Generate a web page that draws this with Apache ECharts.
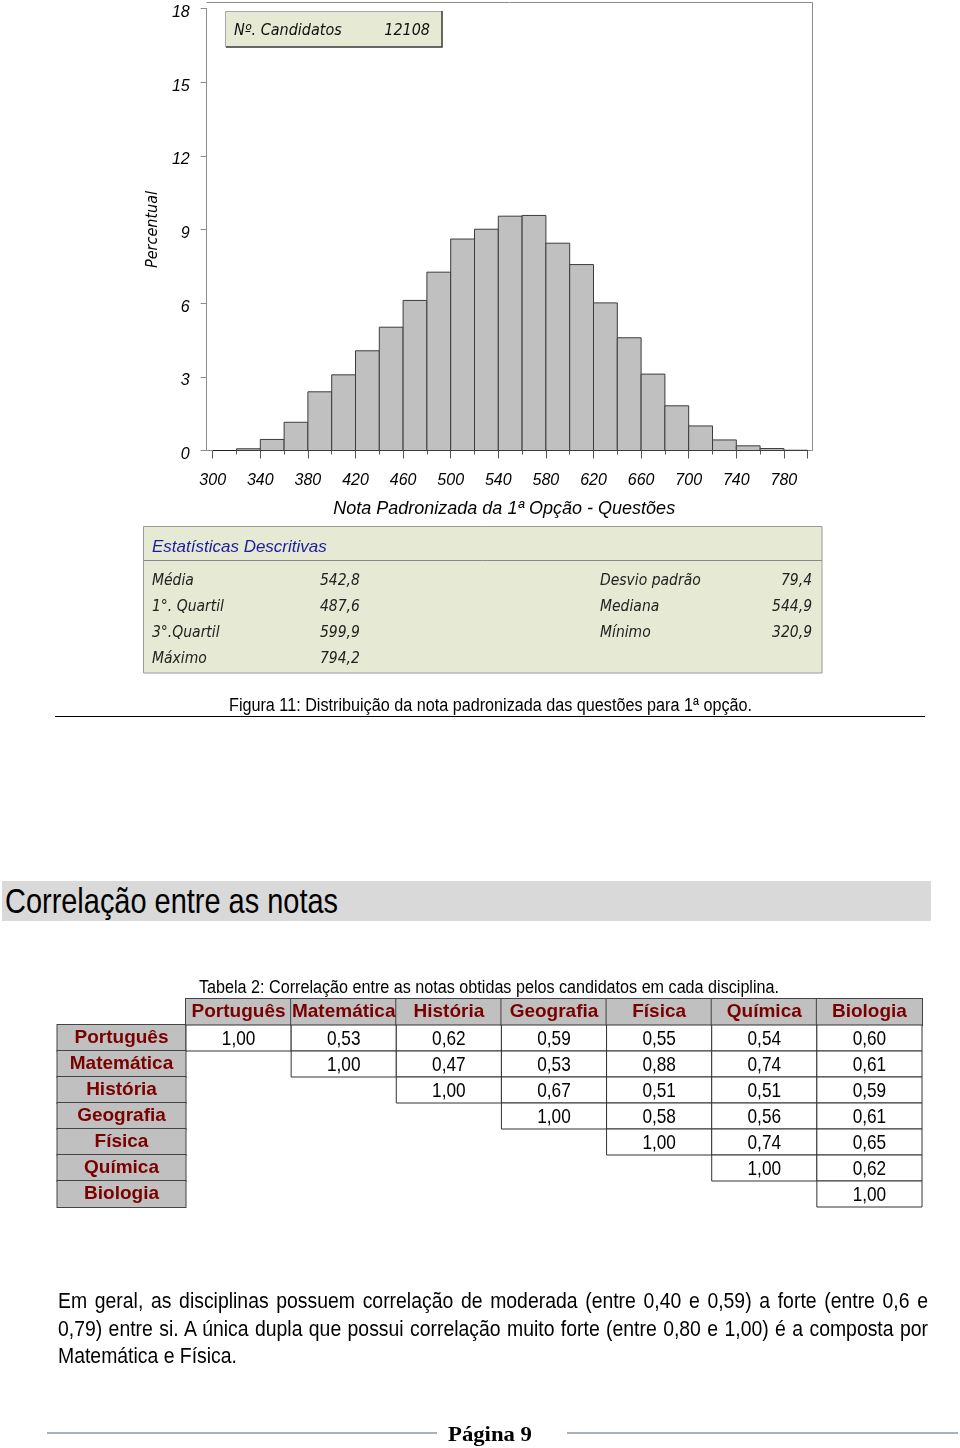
<!DOCTYPE html>
<html>
<head>
<meta charset="utf-8">
<script src="https://cdn.jsdelivr.net/npm/echarts@6/dist/echarts.min.js"></script>
<style>
html,body{margin:0;padding:0;background:#fff;}
#page{position:relative;width:960px;height:1448px;overflow:hidden;background:#fff;}
#chart{position:absolute;left:0;top:0;width:960px;height:1448px;}
.t{position:absolute;white-space:nowrap;color:#000;font-family:'Liberation Sans',Arial,sans-serif;transform-origin:0 0;}
#cap1{left:229px;top:694px;font-size:18px;line-height:22px;}
#cap1line{position:absolute;left:55px;top:716px;width:870px;height:1px;background:#000;}
#band{position:absolute;left:2px;top:881px;width:929px;height:40px;background:#d9d9d9;}
#head{left:5px;top:881px;font-size:35px;line-height:40px;}
#cap2{left:199px;top:976px;font-size:18px;line-height:22px;}
#para{position:absolute;left:58px;top:1287px;font-family:'Liberation Sans',Arial,sans-serif;font-size:22px;line-height:27.5px;color:#000;transform-origin:0 0;}
#para span{display:block;white-space:nowrap;}
#para span.j{text-align:justify;text-align-last:justify;}
.fl{position:absolute;top:1432px;height:2px;background:#a7b2bd;}
#foot{left:448px;top:1420px;font-family:'Liberation Serif','DejaVu Serif',serif;font-weight:bold;font-size:22px;line-height:28px;}
</style>
</head>
<body>
<div id="page">
  <div id="chart"></div>
  <div class="t" id="cap1">Figura 11: Distribuição da nota padronizada das questões para 1ª opção.</div>
  <div id="cap1line"></div>
  <div id="band"></div>
  <div class="t" id="head">Correlação entre as notas</div>
  <div class="t" id="cap2">Tabela 2: Correlação entre as notas obtidas pelos candidatos em cada disciplina.</div>
  <div id="para">
    <span class="j" id="p1">Em geral, as disciplinas possuem correlação de moderada (entre 0,40 e 0,59) a forte (entre 0,6 e</span>
    <span class="j" id="p2">0,79) entre si. A única dupla que possui correlação muito forte (entre 0,80 e 1,00) é a composta por</span>
    <span id="p3">Matemática e Física.</span>
  </div>
  <div class="fl" style="left:47px;width:390px;"></div>
  <div class="fl" style="left:567px;width:391px;"></div>
  <div class="t" id="foot">Página 9</div>
</div>
<script>
// ---------- Histogram data ----------
const binStarts = [300,320,340,360,380,400,420,440,460,480,500,520,540,560,580,600,620,640,660,680,700,720,740,760,780];
const binWidth = 20;
const percent   = [0,0.07,0.45,1.15,2.39,3.08,4.06,5.02,6.11,7.26,8.61,9.01,9.54,9.57,8.44,7.57,6.01,4.59,3.11,1.82,1.00,0.43,0.19,0.08,0.01];
const nCandidatosLabel = 'Nº. Candidatos';
const nCandidatos = '12108';
const statsTitle = 'Estatísticas Descritivas';
const statsLeftLabels  = ['Média','1°. Quartil','3°.Quartil','Máximo'];
const statsLeftValues  = ['542,8','487,6','599,9','794,2'];
const statsRightLabels = ['Desvio padrão','Mediana','Mínimo'];
const statsRightValues = ['79,4','544,9','320,9'];

// ---------- Correlation data ----------
const subjects = ['Português','Matemática','História','Geografia','Física','Química','Biologia'];
const rowPortugues  = [1.00,0.53,0.62,0.59,0.55,0.54,0.60];
const rowMatematica = [null,1.00,0.47,0.53,0.88,0.74,0.61];
const rowHistoria   = [null,null,1.00,0.67,0.51,0.51,0.59];
const rowGeografia  = [null,null,null,1.00,0.58,0.56,0.61];
const rowFisica     = [null,null,null,null,1.00,0.74,0.65];
const rowQuimica    = [null,null,null,null,null,1.00,0.62];
const rowBiologia   = [null,null,null,null,null,null,1.00];
const corrRows = [rowPortugues,rowMatematica,rowHistoria,rowGeografia,rowFisica,rowQuimica,rowBiologia];

// ---------- fit HTML text widths (emulating a narrow font) ----------
function fit(id, target){
  const el = document.getElementById(id);
  const w = el.getBoundingClientRect().width;
  el.style.transform = 'scaleX(' + (target / w) + ')';
}
fit('cap1', 523);
fit('head', 333);
fit('cap2', 580);
fit('foot', 84);
(function(){
  const para = document.getElementById('para');
  const spans = ['p1','p2','p3'].map(id=>document.getElementById(id));
  spans.forEach(s=>{s.style.display='inline-block';});
  const w1 = spans[0].getBoundingClientRect().width;
  const w2 = spans[1].getBoundingClientRect().width;
  const w3 = spans[2].getBoundingClientRect().width;
  const s = Math.min(179 / w3, 866 / Math.max(w1, w2));
  spans.forEach(sp=>{sp.style.display='block';});
  para.style.width = (870 / s) + 'px';
  para.style.transform = 'scaleX(' + s + ')';
})();

// ---------- styles ----------
const F_AXIS = "'Liberation Sans', Arial, sans-serif";
const F_BOX  = "'DejaVu Sans Condensed', 'DejaVu Sans', sans-serif";
const F_TAB  = "'Liberation Sans', Arial, sans-serif";
const BOXFILL = '#e6e9d3';

const histData = binStarts.map((s,i)=>[s, s+binWidth, percent[i]]).filter(d=>d[2]>0);
const cellData = [];
corrRows.forEach((row,i)=>row.forEach((v,j)=>{ if(v!==null) cellData.push([j,i,v]); }));
const fmt = v => v.toFixed(2).replace('.', ',');

const chart = echarts.init(document.getElementById('chart'), null, {renderer:'canvas'});

const statFont = 'italic 15.5px ' + F_BOX;
const statTexts = [];
statsLeftLabels.forEach((l,i)=>{
  statTexts.push({type:'text', x:152, y:581+26*i, style:{text:l, font:statFont, fill:'#222', textVerticalAlign:'middle'}});
  statTexts.push({type:'text', x:320, y:581+26*i, style:{text:statsLeftValues[i], font:statFont, fill:'#222', textVerticalAlign:'middle'}});
});
statsRightLabels.forEach((l,i)=>{
  statTexts.push({type:'text', x:600, y:581+26*i, style:{text:l, font:statFont, fill:'#222', textVerticalAlign:'middle'}});
  statTexts.push({type:'text', x:812, y:581+26*i, style:{text:statsRightValues[i], font:statFont, fill:'#222', textAlign:'right', textVerticalAlign:'middle'}});
});

const option = {
  animation:false,
  grid:[
    {left:212.7, right:152.3, top:8.4, bottom:997.5, outerBoundsMode:'none', containLabel:false},
    {left:186, right:38, top:1025, bottom:241, outerBoundsMode:'none', containLabel:false}
  ],
  xAxis:[
    {gridIndex:0, type:'value', min:300, max:800, interval:40,
     axisLine:{show:true, onZero:false, lineStyle:{color:'#222', width:1}},
     axisTick:{show:true, length:8, lineStyle:{color:'#555'}},
     minorTick:{show:true, splitNumber:2, length:4, lineStyle:{color:'#555'}},
     splitLine:{show:false}, minorSplitLine:{show:false},
     axisLabel:{showMaxLabel:false, hideOverlap:false, margin:22, fontStyle:'italic', fontSize:16, color:'#000', fontFamily:F_AXIS},
     name:'Nota Padronizada da 1ª Opção - Questões', nameLocation:'middle', nameGap:49,
     nameTextStyle:{fontStyle:'italic', fontSize:18, color:'#000', fontFamily:F_AXIS, padding:[0,12,0,0]}},
    {gridIndex:1, type:'category', data:subjects, position:'top',
     axisLine:{show:false}, axisTick:{show:false}, splitLine:{show:false},
     axisLabel:{interval:0, margin:0, hideOverlap:false, width:105.14, height:26, lineHeight:26, padding:0,
       backgroundColor:'#c0c0c0', borderColor:'#444', borderWidth:1,
       color:'#7a0000', fontWeight:'bold', fontSize:19, fontFamily:F_TAB, align:'center', overflow:'none'}}
  ],
  yAxis:[
    {gridIndex:0, type:'value', min:0, max:18, interval:3, offset:6,
     axisLine:{show:true, lineStyle:{color:'#8c8c8c'}},
     axisTick:{show:true, length:6, lineStyle:{color:'#8c8c8c'}},
     splitLine:{show:false},
     axisLabel:{margin:17, formatter:'{a|{value}}',
       rich:{a:{fontStyle:'italic', fontSize:16, color:'#000', fontFamily:F_AXIS, padding:[8,0,0,0]}}},
     name:'Percentual', nameLocation:'middle', nameGap:42, nameRotate:90,
     nameTextStyle:{fontStyle:'italic', fontSize:16, color:'#000', fontFamily:F_BOX}},
    {gridIndex:1, type:'category', data:subjects, inverse:true,
     axisLine:{show:false}, axisTick:{show:false}, splitLine:{show:false},
     axisLabel:{interval:0, margin:64.5, hideOverlap:false, width:128, height:26, lineHeight:26, padding:0,
       backgroundColor:'#c0c0c0', borderColor:'#444', borderWidth:1,
       color:'#7a0000', fontWeight:'bold', fontSize:19, fontFamily:F_TAB, align:'center', overflow:'none'}}
  ],
  series:[
    {type:'custom', xAxisIndex:0, yAxisIndex:0, data:histData, encode:{x:[0,1], y:2},
     renderItem:function(params, api){
       const p0 = api.coord([api.value(0), api.value(2)]);
       const p1 = api.coord([api.value(1), 0]);
       return {type:'rect', shape:{x:p0[0], y:p0[1], width:p1[0]-p0[0], height:p1[1]-p0[1]},
               style:{fill:'#c0c0c0', stroke:'#3c3c3c', lineWidth:1}};
     }},
    {type:'custom', xAxisIndex:1, yAxisIndex:1, data:cellData, encode:{x:0, y:1},
     renderItem:function(params, api){
       const c = api.coord([api.value(0), api.value(1)]);
       const s = api.size([1,1]);
       return {type:'group', children:[
         {type:'rect', shape:{x:c[0]-s[0]/2, y:c[1]-s[1]/2, width:s[0], height:s[1]},
          style:{fill:'#fff', stroke:'#333', lineWidth:1}},
         {type:'text', x:c[0], y:c[1]+1, scaleX:0.82,
          style:{x:0, y:0, text:fmt(api.value(2)), textAlign:'center', textVerticalAlign:'middle',
          font:'21px '+F_TAB, fill:'#000'}}
       ]};
     }}
  ],
  graphic:[
    {type:'line', shape:{x1:206.5, y1:2.5, x2:812.5, y2:2.5}, style:{stroke:'#8c8c8c', lineWidth:1}, z:1},
    {type:'line', shape:{x1:812.5, y1:2.5, x2:812.5, y2:450.5}, style:{stroke:'#8c8c8c', lineWidth:1}, z:1},
    {type:'line', shape:{x1:206.5, y1:450.5, x2:212.7, y2:450.5}, style:{stroke:'#8c8c8c', lineWidth:1}, z:1},
    {type:'line', shape:{x1:807.7, y1:450.5, x2:812.5, y2:450.5}, style:{stroke:'#8c8c8c', lineWidth:1}, z:1},
    // Nº candidatos box
    {type:'rect', shape:{x:225.5, y:11.5, width:216.5, height:35.5}, style:{fill:BOXFILL, stroke:'#a8a8a8', lineWidth:1}, z:5},
    {type:'polyline', shape:{points:[[226,47],[442,47],[442,11]]}, style:{stroke:'#444', fill:null, lineWidth:1.5}, z:6},
    {type:'text', x:234, y:31, style:{text:nCandidatosLabel, font:'italic 16px '+F_BOX, fill:'#111', textVerticalAlign:'middle'}, z:7},
    {type:'text', x:430, y:31, style:{text:nCandidatos, font:'italic 16px '+F_BOX, fill:'#111', textAlign:'right', textVerticalAlign:'middle'}, z:7},
    // stats box
    {type:'rect', shape:{x:143.5, y:526.5, width:678.5, height:146.5}, style:{fill:BOXFILL, stroke:'#9a9a9a', lineWidth:1}, z:5},
    {type:'line', shape:{x1:143.5, y1:560.5, x2:822, y2:560.5}, style:{stroke:'#8a8a8a', lineWidth:1}, z:6},
    {type:'text', x:152, y:547, style:{text:statsTitle, font:'italic 17px '+F_AXIS, fill:'#1c1ca0', textVerticalAlign:'middle'}, z:7},
    ...statTexts.map(t=>Object.assign(t,{z:7}))
  ]
};
chart.setOption(option);
</script>
</body>
</html>
